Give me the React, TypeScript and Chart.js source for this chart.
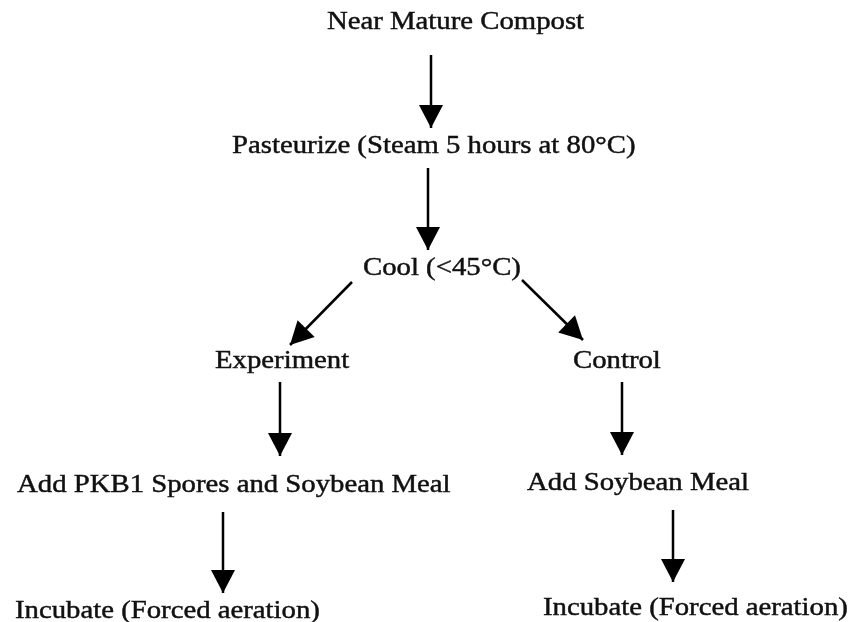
import React, { useEffect, useRef } from "react";
import { Chart, registerables } from "chart.js";

Chart.register(...registerables);

// Flowchart nodes: label, left x, baseline y (in chart units = page pixels)
const nodeLabels = [
  "Near Mature Compost",
  "Pasteurize (Steam 5 hours at 80°C)",
  "Cool (<45°C)",
  "Experiment",
  "Control",
  "Add PKB1 Spores and Soybean Meal",
  "Add Soybean Meal",
  "Incubate (Forced aeration)",
  "Incubate (Forced aeration)",
];
const nodeX = [327, 232, 363, 215, 573, 17, 527, 15, 543];
const nodeY = [29, 153, 275, 368, 368, 492, 490, 618, 615];

// Arrows: start point and tip point
const arrowFromX = [431, 428, 352, 522, 280, 622, 223, 673];
const arrowFromY = [55, 168, 282, 280, 382, 382, 512, 510];
const arrowToX = [431, 428, 290, 583, 280, 622, 223, 673];
const arrowToY = [128, 250, 345, 340, 456, 455, 593, 582];

const W = 852;
const H = 622;

const flowPlugin = {
  id: "flowPlugin",
  afterDatasetsDraw(chart: any) {
    const ctx = chart.ctx as CanvasRenderingContext2D;
    const xs = chart.scales.x;
    const ys = chart.scales.y;
    ctx.save();
    // arrowheads
    ctx.fillStyle = "#000";
    const headLen = 23;
    const headW = 24;
    for (let i = 0; i < arrowFromX.length; i++) {
      const x0 = xs.getPixelForValue(arrowFromX[i]);
      const y0 = ys.getPixelForValue(arrowFromY[i]);
      const x1 = xs.getPixelForValue(arrowToX[i]);
      const y1 = ys.getPixelForValue(arrowToY[i]);
      const dx = x1 - x0;
      const dy = y1 - y0;
      const len = Math.hypot(dx, dy) || 1;
      const ux = dx / len;
      const uy = dy / len;
      const bx = x1 - ux * headLen;
      const by = y1 - uy * headLen;
      const px = -uy;
      const py = ux;
      ctx.beginPath();
      ctx.moveTo(x1, y1);
      ctx.lineTo(bx + px * headW / 2, by + py * headW / 2);
      ctx.lineTo(bx - px * headW / 2, by - py * headW / 2);
      ctx.closePath();
      ctx.fill();
    }
    // labels
    ctx.font = '25px "Liberation Serif", "Times New Roman", serif';
    ctx.textAlign = "left";
    ctx.textBaseline = "alphabetic";
    ctx.fillStyle = "#111";
    ctx.strokeStyle = "#111";
    ctx.lineWidth = 0.45;
    for (let i = 0; i < nodeLabels.length; i++) {
      const px = xs.getPixelForValue(nodeX[i]);
      const py = ys.getPixelForValue(nodeY[i]);
      ctx.save();
      ctx.translate(px, py);
      ctx.scale(1.15, 1);
      ctx.fillText(nodeLabels[i], 0, 0);
      ctx.strokeText(nodeLabels[i], 0, 0);
      ctx.restore();
    }
    ctx.restore();
  },
};

export default function App() {
  const canvasRef = useRef<HTMLCanvasElement | null>(null);

  useEffect(() => {
    if (!canvasRef.current) return;
    const datasets = arrowFromX.map((_, i) => ({
      label: "arrow" + i,
      data: [
        { x: arrowFromX[i], y: arrowFromY[i] },
        { x: arrowToX[i], y: arrowToY[i] },
      ],
      showLine: true,
      borderColor: "#000",
      backgroundColor: "#000",
      borderWidth: 2.5,
      pointRadius: 0,
      pointHoverRadius: 0,
      fill: false,
    }));
    const chart = new Chart(canvasRef.current, {
      type: "scatter",
      data: { datasets },
      options: {
        animation: false,
        responsive: false,
        maintainAspectRatio: false,
        devicePixelRatio: 1,
        layout: { padding: 0 },
        events: [],
        plugins: {
          legend: { display: false },
          tooltip: { enabled: false },
          title: { display: false },
        },
        scales: {
          x: { type: "linear", min: 0, max: W, display: false },
          y: { type: "linear", min: 0, max: H, reverse: true, display: false },
        },
      },
      plugins: [flowPlugin],
    });
    return () => chart.destroy();
  }, []);

  return (
    <div
      style={{
        position: "absolute",
        left: 0,
        top: 0,
        width: W,
        height: H,
        background: "#fff",
      }}
    >
      <canvas
        ref={canvasRef}
        width={W}
        height={H}
        style={{ width: W, height: H, display: "block" }}
      />
    </div>
  );
}
